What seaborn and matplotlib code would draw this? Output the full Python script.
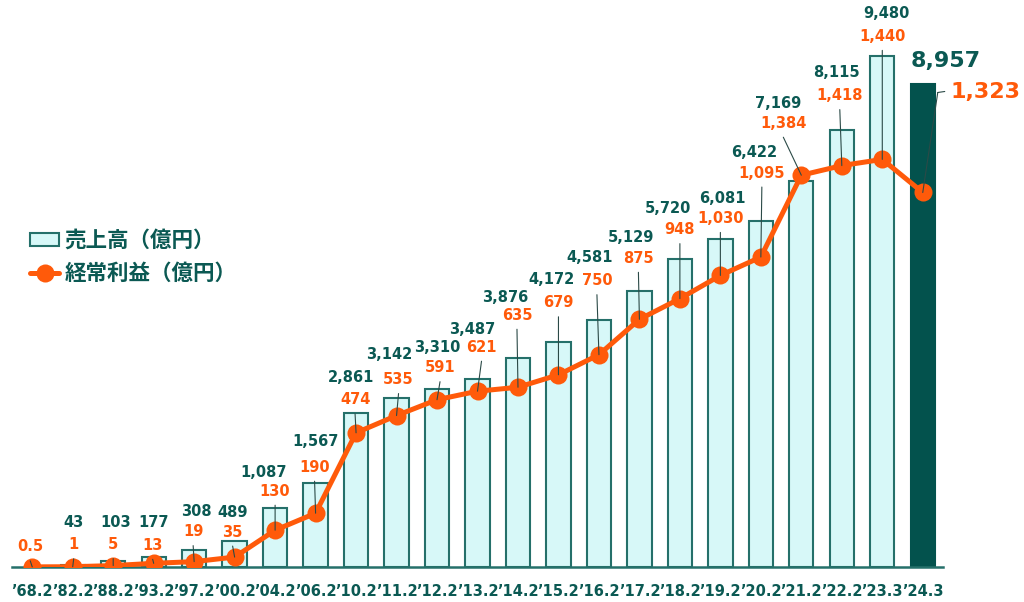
import numpy as np
import matplotlib
matplotlib.use("Agg")
import matplotlib.pyplot as plt
import seaborn as sns
from matplotlib.patches import Patch
from matplotlib.lines import Line2D
from matplotlib.ticker import FixedLocator
from matplotlib.transforms import offset_copy

# Data
years = ["\u201968.2", "\u201982.2", "\u201988.2", "\u201993.2", "\u201997.2", "\u201900.2",
         "\u201904.2", "\u201906.2", "\u201910.2", "\u201911.2", "\u201912.2", "\u201913.2",
         "\u201914.2", "\u201915.2", "\u201916.2", "\u201917.2", "\u201918.2", "\u201919.2",
         "\u201920.2", "\u201921.2", "\u201922.2", "\u201923.3", "\u201924.3"]
sales = [np.nan, 43, 103, 177, 308, 489, 1087, 1567, 2861, 3142, 3310, 3487,
         3876, 4172, 4581, 5129, 5720, 6081, 6422, 7169, 8115, 9480, 8957]
profit = [0.5, 1, 5, 13, 19, 35, 130, 190, 474, 535, 591, 621,
          635, 679, 750, 875, 948, 1030, 1095, 1384, 1418, 1440, 1323]
sales_labels = ["", "43", "103", "177", "308", "489", "1,087", "1,567", "2,861", "3,142",
                "3,310", "3,487", "3,876", "4,172", "4,581", "5,129", "5,720", "6,081",
                "6,422", "7,169", "8,115", "9,480", "8,957"]
profit_labels = ["0.5", "1", "5", "13", "19", "35", "130", "190", "474", "535", "591", "621",
                 "635", "679", "750", "875", "948", "1,030", "1,095", "1,384", "1,418",
                 "1,440", "1,323"]

# Layout: label offsets in pixels (profit label from marker, sales label from profit label)
profit_off = [(-2, 20), (1, 22), (0, 21), (-1, 18), (-1, 30), (-2, 25), (0, 39), (-1, 46),
              (-1, 33), (2, 36), (3, 32), (4, 44), (-1, 72), (0, 72), (-2, 74), (-1, 61),
              (0, 69), (0, 57), (1, 84), (-18, 52), (-2, 70), (0, 123), (63, 100)]
sales_off = [(0, 22), (0, 22), (2, 22), (1, 23), (3, 20), (0, 20), (-12, 19), (1, 26),
             (-4, 22), (-9, 25), (-3, 20), (-9, 18), (-12, 18), (-7, 23), (-7, 23), (-7, 21),
             (-12, 21), (2, 20), (-8, 21), (-5, 20), (-3, 23), (4, 23), (-40, 31)]

TEAL = "#0b5953"
BAR_FILL = "#d7f8f8"
BAR_EDGE = "#25706a"
BAR_LAST = "#03524d"
ORANGE = "#ff5a0a"
LEADER = "#2b4a47"

sns.set_style("white")
plt.rcParams["font.family"] = ["DejaVu Sans"]

fig = plt.figure(figsize=(10.24, 6.02), dpi=100)
ax = fig.add_axes([12 / 1024, 35 / 602, 931 / 1024, 567 / 602])
ax2 = ax.twinx()

sns.barplot(x=years, y=sales, order=years, color=BAR_FILL, width=0.6,
            edgecolor=BAR_EDGE, linewidth=1.5, saturation=1, ax=ax)
last = ax.patches[-1]
last.set_facecolor(BAR_LAST)
last.set_edgecolor(BAR_LAST)

sns.pointplot(x=years, y=profit, order=years, color=ORANGE, markers="o",
              markersize=13, linewidth=3.6, markeredgewidth=0, errorbar=None, ax=ax2)

n = len(years)
ax.set_xlim(-0.5, n - 0.5)
ax.set_ylim(0, 10520)
ax2.set_ylim(0, 2003)
ax2.set_xlim(-0.5, n - 0.5)

for a in (ax, ax2):
    for s in ("top", "right", "left"):
        a.spines[s].set_visible(False)
    a.set_ylabel("")
    a.set_yticks([])
ax2.spines["bottom"].set_visible(False)
ax.spines["bottom"].set_color(BAR_EDGE)
ax.spines["bottom"].set_linewidth(1.8)

ax.xaxis.set_major_locator(FixedLocator(range(n)))
ax.set_xticklabels(years, fontsize=10.5, fontweight="bold", color=TEAL)
ax.tick_params(axis="x", which="major", length=0, pad=12)
ax.xaxis.set_minor_locator(FixedLocator(np.arange(-0.5, n, 1.0)))
ax.tick_params(axis="x", which="minor", length=4, width=1.8, color=BAR_EDGE, direction="out")

# value labels with leader lines
for i in range(n):
    big = i == n - 1
    fs = 16 if big else 10.5
    pdx, pdy = profit_off[i]
    sdx, sdy = sales_off[i]
    ax2.annotate(profit_labels[i], xy=(i, profit[i]), xytext=(pdx, pdy),
                 textcoords="offset pixels", ha="center", va="center",
                 fontsize=fs, fontweight="bold", color=ORANGE, zorder=6)
    if sales_labels[i]:
        ax2.annotate(sales_labels[i], xy=(i, profit[i]), xytext=(pdx + sdx, pdy + sdy),
                     textcoords="offset pixels", ha="center", va="center",
                     fontsize=fs, fontweight="bold", color=TEAL, zorder=6)
    line_kw = dict(arrowstyle="-", color=LEADER, lw=0.8, shrinkA=0, shrinkB=0)
    if big:
        knee = (pdx - 48, pdy)
        ax2.annotate("", xy=(i, profit[i]), xytext=knee, textcoords="offset pixels",
                     arrowprops=line_kw, zorder=7)
        knee_tr = offset_copy(ax2.transData, fig=fig, x=knee[0], y=knee[1], units="dots")
        ax2.annotate("", xy=(i, profit[i]), xycoords=knee_tr, xytext=(7, 1),
                     textcoords="offset pixels", arrowprops=line_kw, zorder=7)
    else:
        ax2.annotate("", xy=(i, profit[i]), xytext=(pdx, pdy - 14),
                     textcoords="offset pixels", arrowprops=line_kw, zorder=7)

handles = [Patch(facecolor=BAR_FILL, edgecolor=BAR_EDGE, linewidth=1.5),
           Line2D([], [], color=ORANGE, linewidth=3.6, marker="o", markersize=13,
                  markeredgewidth=0)]
fig.legend(handles, ["売上高（億円）", "経常利益（億円）"], loc="upper left",
           bbox_to_anchor=(30 / 1024, 1 - 230 / 602), frameon=False, borderpad=0,
           borderaxespad=0, handlelength=1.35, handleheight=0.6, handletextpad=0.25,
           labelspacing=0.55, labelcolor=TEAL,
           prop=dict(family=["Noto Sans CJK JP", "DejaVu Sans"], weight="bold", size=15.5))

fig.savefig("out.png", dpi=100)
